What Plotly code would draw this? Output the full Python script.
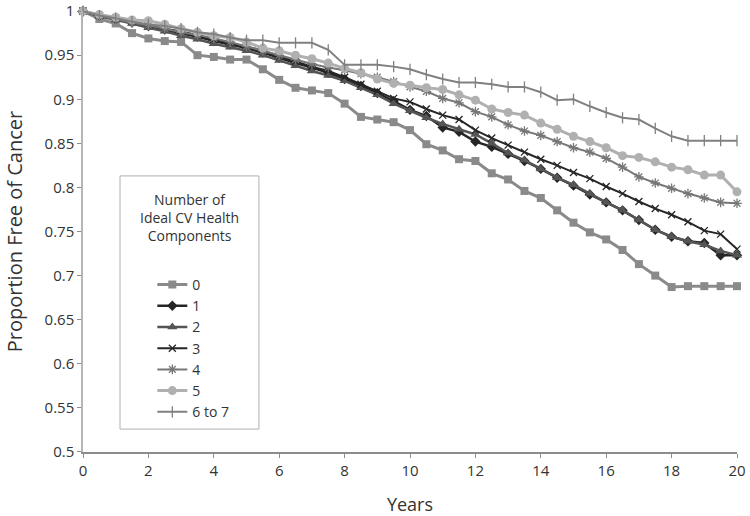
import plotly.graph_objects as go

years = [i * 0.5 for i in range(41)]

s0 = [1.000, 0.991, 0.986, 0.975, 0.969, 0.966, 0.965, 0.950, 0.948, 0.945, 0.945,
      0.934, 0.922, 0.913, 0.910, 0.907, 0.895, 0.880, 0.877, 0.874, 0.865,
      0.849, 0.842, 0.832, 0.830, 0.816, 0.809, 0.796, 0.788, 0.774, 0.760,
      0.749, 0.741, 0.729, 0.713, 0.700, 0.687, 0.688, 0.688, 0.688, 0.688]
s1 = [1.000, 0.995, 0.991, 0.987, 0.983, 0.979, 0.975, 0.971, 0.966, 0.962, 0.958,
      0.953, 0.947, 0.941, 0.936, 0.930, 0.923, 0.915, 0.907, 0.898, 0.888,
      0.881, 0.868, 0.863, 0.852, 0.846, 0.838, 0.830, 0.821, 0.811, 0.802,
      0.792, 0.783, 0.774, 0.763, 0.752, 0.744, 0.739, 0.737, 0.723, 0.723]
s2 = [1.000, 0.994, 0.990, 0.986, 0.981, 0.977, 0.972, 0.968, 0.963, 0.959, 0.955,
      0.950, 0.944, 0.938, 0.932, 0.927, 0.921, 0.913, 0.905, 0.895, 0.887,
      0.879, 0.872, 0.866, 0.860, 0.850, 0.839, 0.831, 0.821, 0.811, 0.803,
      0.793, 0.783, 0.774, 0.763, 0.752, 0.744, 0.739, 0.735, 0.728, 0.723]
s3 = [1.000, 0.995, 0.992, 0.988, 0.984, 0.980, 0.977, 0.973, 0.968, 0.964, 0.960,
      0.955, 0.949, 0.943, 0.937, 0.932, 0.925, 0.917, 0.909, 0.901, 0.897,
      0.889, 0.882, 0.877, 0.865, 0.856, 0.848, 0.840, 0.832, 0.825, 0.817,
      0.810, 0.801, 0.793, 0.784, 0.776, 0.769, 0.761, 0.751, 0.747, 0.730]
s4 = [1.000, 0.995, 0.991, 0.987, 0.984, 0.980, 0.976, 0.973, 0.969, 0.965, 0.960,
      0.955, 0.950, 0.945, 0.940, 0.936, 0.933, 0.929, 0.925, 0.920, 0.914,
      0.909, 0.901, 0.896, 0.886, 0.880, 0.871, 0.864, 0.859, 0.852, 0.845,
      0.840, 0.833, 0.823, 0.812, 0.805, 0.799, 0.793, 0.788, 0.783, 0.782]
s5 = [1.000, 0.996, 0.993, 0.990, 0.989, 0.985, 0.980, 0.976, 0.972, 0.970, 0.965,
      0.958, 0.955, 0.950, 0.946, 0.941, 0.935, 0.930, 0.923, 0.918, 0.916,
      0.913, 0.911, 0.905, 0.899, 0.889, 0.885, 0.882, 0.873, 0.866, 0.858,
      0.852, 0.845, 0.836, 0.834, 0.829, 0.823, 0.820, 0.814, 0.814, 0.795]
s6 = [1.000, 0.995, 0.992, 0.988, 0.985, 0.983, 0.980, 0.976, 0.974, 0.970, 0.967,
      0.967, 0.964, 0.964, 0.964, 0.956, 0.939, 0.939, 0.939, 0.937, 0.934,
      0.928, 0.923, 0.919, 0.919, 0.917, 0.914, 0.914, 0.908, 0.899, 0.900,
      0.892, 0.885, 0.879, 0.877, 0.867, 0.858, 0.853, 0.853, 0.853, 0.853]

names = ["0", "1", "2", "3", "4", "5", "6 to 7"]
series = [s0, s1, s2, s3, s4, s5, s6]
legend_title = "Number of<br>Ideal CV Health<br>Components"
y_ticks = [0.5, 0.55, 0.6, 0.65, 0.7, 0.75, 0.8, 0.85, 0.9, 0.95, 1.0]
y_tick_text = ["0.5", "0.55", "0.6", "0.65", "0.7", "0.75", "0.8", "0.85", "0.9", "0.95", "1"]
x_ticks = list(range(0, 21, 2))

styles = [
    dict(color="#8a8a8a", width=3, symbol="square", size=8, lw=0),
    dict(color="#262626", width=2.5, symbol="diamond", size=8, lw=0),
    dict(color="#555555", width=2.5, symbol="triangle-up", size=9, lw=0),
    dict(color="#262626", width=2, symbol="x-thin-open", size=7, lw=1.3),
    dict(color="#777777", width=2, symbol="asterisk-open", size=8, lw=1.3),
    dict(color="#b0b0b0", width=3, symbol="circle", size=9, lw=0),
    dict(color="#808080", width=2, symbol="line-ns-open", size=8, lw=1.3),
]

fig = go.Figure()
for name, ys, st in zip(names, series, styles):
    fig.add_trace(go.Scatter(
        x=years, y=ys, name=name, mode="lines+markers",
        line=dict(color=st["color"], width=st["width"]),
        marker=dict(symbol=st["symbol"], size=st["size"], color=st["color"],
                    line=dict(color=st["color"], width=st["lw"])),
        cliponaxis=False,
    ))

font_family = "Open Sans, DejaVu Sans, sans-serif"
fig.update_layout(
    width=750, height=516,
    margin=dict(l=83, r=13, t=11, b=64, autoexpand=False),
    paper_bgcolor="white", plot_bgcolor="white",
    font=dict(family=font_family, size=14, color="#333333"),
    showlegend=True,
    legend=dict(
        x=0.106, y=0.415, xanchor="left", yanchor="top",
        borderwidth=0, bgcolor="rgba(0,0,0,0)",
        font=dict(size=14, color="#333333"),
    ),
    shapes=[dict(
        type="rect", xref="paper", yref="paper",
        x0=0.0566, x1=0.269, y0=0.052, y1=0.626,
        line=dict(color="#b0b0b0", width=1), fillcolor="white", layer="below",
    )],
    annotations=[dict(
        text=legend_title, xref="paper", yref="paper",
        x=0.163, y=0.532, xanchor="center", yanchor="middle",
        showarrow=False, align="center", font=dict(size=14, color="#333333"),
    )],
    xaxis=dict(
        range=[0, 20], tickvals=x_ticks, showgrid=False, zeroline=False,
        showline=True, linecolor="#8c8c8c", linewidth=1.5,
        ticks="outside", ticklen=4, tickcolor="#8c8c8c",
        ticklabeloverflow="allow", automargin=False,
        title=dict(text="Years", font=dict(size=18), standoff=30),
        tickfont=dict(size=15),
    ),
    yaxis=dict(
        range=[0.4999, 1.0001], tickvals=y_ticks, ticktext=y_tick_text, showgrid=False, zeroline=False,
        showline=True, linecolor="#b5b5b5", linewidth=1.5,
        ticks="outside", ticklen=4, tickcolor="#8c8c8c",
        ticklabeloverflow="allow", automargin=False,
        title=dict(text="Proportion Free of Cancer", font=dict(size=20), standoff=17),
        tickfont=dict(size=15),
    ),
)

fig.write_html("out.html", config={"displayModeBar": False},
               post_script="document.body.style.margin='0';")
